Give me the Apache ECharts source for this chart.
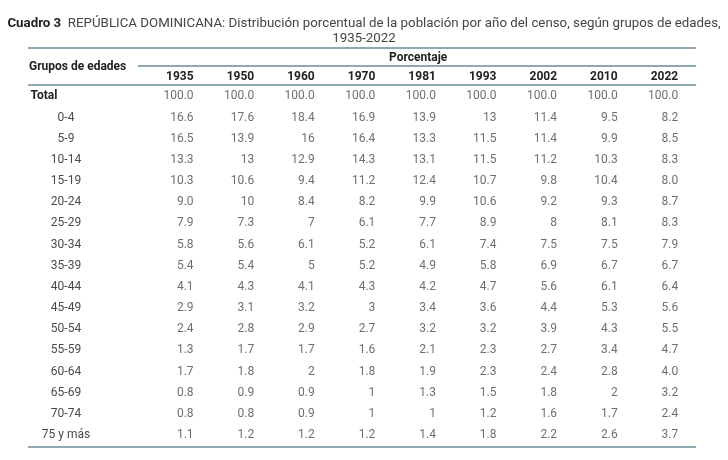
<!DOCTYPE html>
<html>
<head>
<meta charset="utf-8">
<script src="https://cdn.jsdelivr.net/npm/echarts@6/dist/echarts.min.js"></script>
<style>html,body{margin:0;padding:0;background:#fff;}#c{width:728px;height:460px;}</style>
</head>
<body>
<div id="c"></div>
<script>
const years = ['1935','1950','1960','1970','1981','1993','2002','2010','2022'];
const groups = ['Total','0-4','5-9','10-14','15-19','20-24','25-29','30-34','35-39','40-44','45-49','50-54','55-59','60-64','65-69','70-74','75 y más'];
const v1935 = ['100.0','16.6','16.5','13.3','10.3','9.0','7.9','5.8','5.4','4.1','2.9','2.4','1.3','1.7','0.8','0.8','1.1'];
const v1950 = ['100.0','17.6','13.9','13','10.6','10','7.3','5.6','5.4','4.3','3.1','2.8','1.7','1.8','0.9','0.8','1.2'];
const v1960 = ['100.0','18.4','16','12.9','9.4','8.4','7','6.1','5','4.1','3.2','2.9','1.7','2','0.9','0.9','1.2'];
const v1970 = ['100.0','16.9','16.4','14.3','11.2','8.2','6.1','5.2','5.2','4.3','3','2.7','1.6','1.8','1','1','1.2'];
const v1981 = ['100.0','13.9','13.3','13.1','12.4','9.9','7.7','6.1','4.9','4.2','3.4','3.2','2.1','1.9','1.3','1','1.4'];
const v1993 = ['100.0','13','11.5','11.5','10.7','10.6','8.9','7.4','5.8','4.7','3.6','3.2','2.3','2.3','1.5','1.2','1.8'];
const v2002 = ['100.0','11.4','11.4','11.2','9.8','9.2','8','7.5','6.9','5.6','4.4','3.9','2.7','2.4','1.8','1.6','2.2'];
const v2010 = ['100.0','9.5','9.9','10.3','10.4','9.3','8.1','7.5','6.7','6.1','5.3','4.3','3.4','2.8','2','1.7','2.6'];
const v2022 = ['100.0','8.2','8.5','8.3','8.0','8.7','8.3','7.9','6.7','6.4','5.6','5.5','4.7','4.0','3.2','2.4','3.7'];
const columns = [v1935,v1950,v1960,v1970,v1981,v1993,v2002,v2010,v2022];

const FONT = 'Roboto, "Noto Sans", sans-serif';
const RULE = '#6a8d99';

const series = years.map((y, i) => ({
  type: 'scatter',
  name: y,
  symbolSize: 0,
  silent: true,
  data: groups.map((g, r) => [y, g, columns[i][r]]),
  label: {
    show: true,
    position: 'left',
    distance: 0,
    formatter: p => p.value[2],
    color: '#4a4a4a',
    fontSize: 12,
    fontFamily: FONT
  }
}));

const chart = echarts.init(document.getElementById('c'), null, {renderer: 'canvas'});
chart.setOption({
  backgroundColor: '#fff',
  animation: false,
  title: {
    left: 'center',
    top: 11,
    text: '{b|Cuadro 3}  {r|REPÚBLICA DOMINICANA: Distribución porcentual de la población por año del censo, según grupos de edades,}\n{r|1935-2022}',
    textStyle: {
      fontFamily: FONT,
      fontWeight: 'normal',
      fontSize: 13.3,
      lineHeight: 15,
      rich: {
        b: {fontWeight: 'bold', fontSize: 13.3, color: '#222', fontFamily: FONT, lineHeight: 15},
        r: {fontWeight: 'normal', fontSize: 13.3, color: '#444', fontFamily: FONT, lineHeight: 15}
      }
    }
  },
  grid: {left: 163.3, right: 19.5, top: 85.9, bottom: 14.4, containLabel: false},
  xAxis: {
    type: 'category',
    position: 'top',
    data: years,
    boundaryGap: true,
    axisLine: {show: false},
    axisTick: {show: false},
    splitLine: {show: false},
    axisLabel: {
      align: 'right',
      margin: 3,
      fontWeight: 'bold',
      fontSize: 12,
      color: '#222',
      fontFamily: FONT
    }
  },
  yAxis: {
    type: 'category',
    data: groups,
    inverse: true,
    boundaryGap: true,
    axisLine: {show: false},
    axisTick: {show: false},
    splitLine: {show: false},
    axisLabel: {
      align: 'center',
      margin: 97.3,
      fontSize: 12,
      color: '#4a4a4a',
      fontFamily: FONT,
      formatter: v => v === 'Total' ? '{t|' + v + '}' : v,
      rich: {
        t: {fontWeight: 'bold', fontSize: 12, color: '#222', fontFamily: FONT, padding: [0, 44, 0, 0]}
      }
    }
  },
  graphic: [
    {type: 'line', silent: true, shape: {x1: 28, y1: 48, x2: 696, y2: 48}, style: {stroke: RULE, lineWidth: 1.5}},
    {type: 'line', silent: true, shape: {x1: 138, y1: 66, x2: 696, y2: 66}, style: {stroke: RULE, lineWidth: 1.5}},
    {type: 'line', silent: true, shape: {x1: 28, y1: 85, x2: 696, y2: 85}, style: {stroke: RULE, lineWidth: 1.5}},
    {type: 'line', silent: true, shape: {x1: 28, y1: 447, x2: 696, y2: 447}, style: {stroke: RULE, lineWidth: 1.5}},
    {type: 'text', silent: true, left: 29, top: 61, style: {text: 'Grupos de edades', font: 'bold 12px ' + FONT, fill: '#222'}},
    {type: 'text', silent: true, left: 389, top: 52, style: {text: 'Porcentaje', font: 'bold 12px ' + FONT, fill: '#222'}}
  ],
  series: series
});
</script>
</body>
</html>
